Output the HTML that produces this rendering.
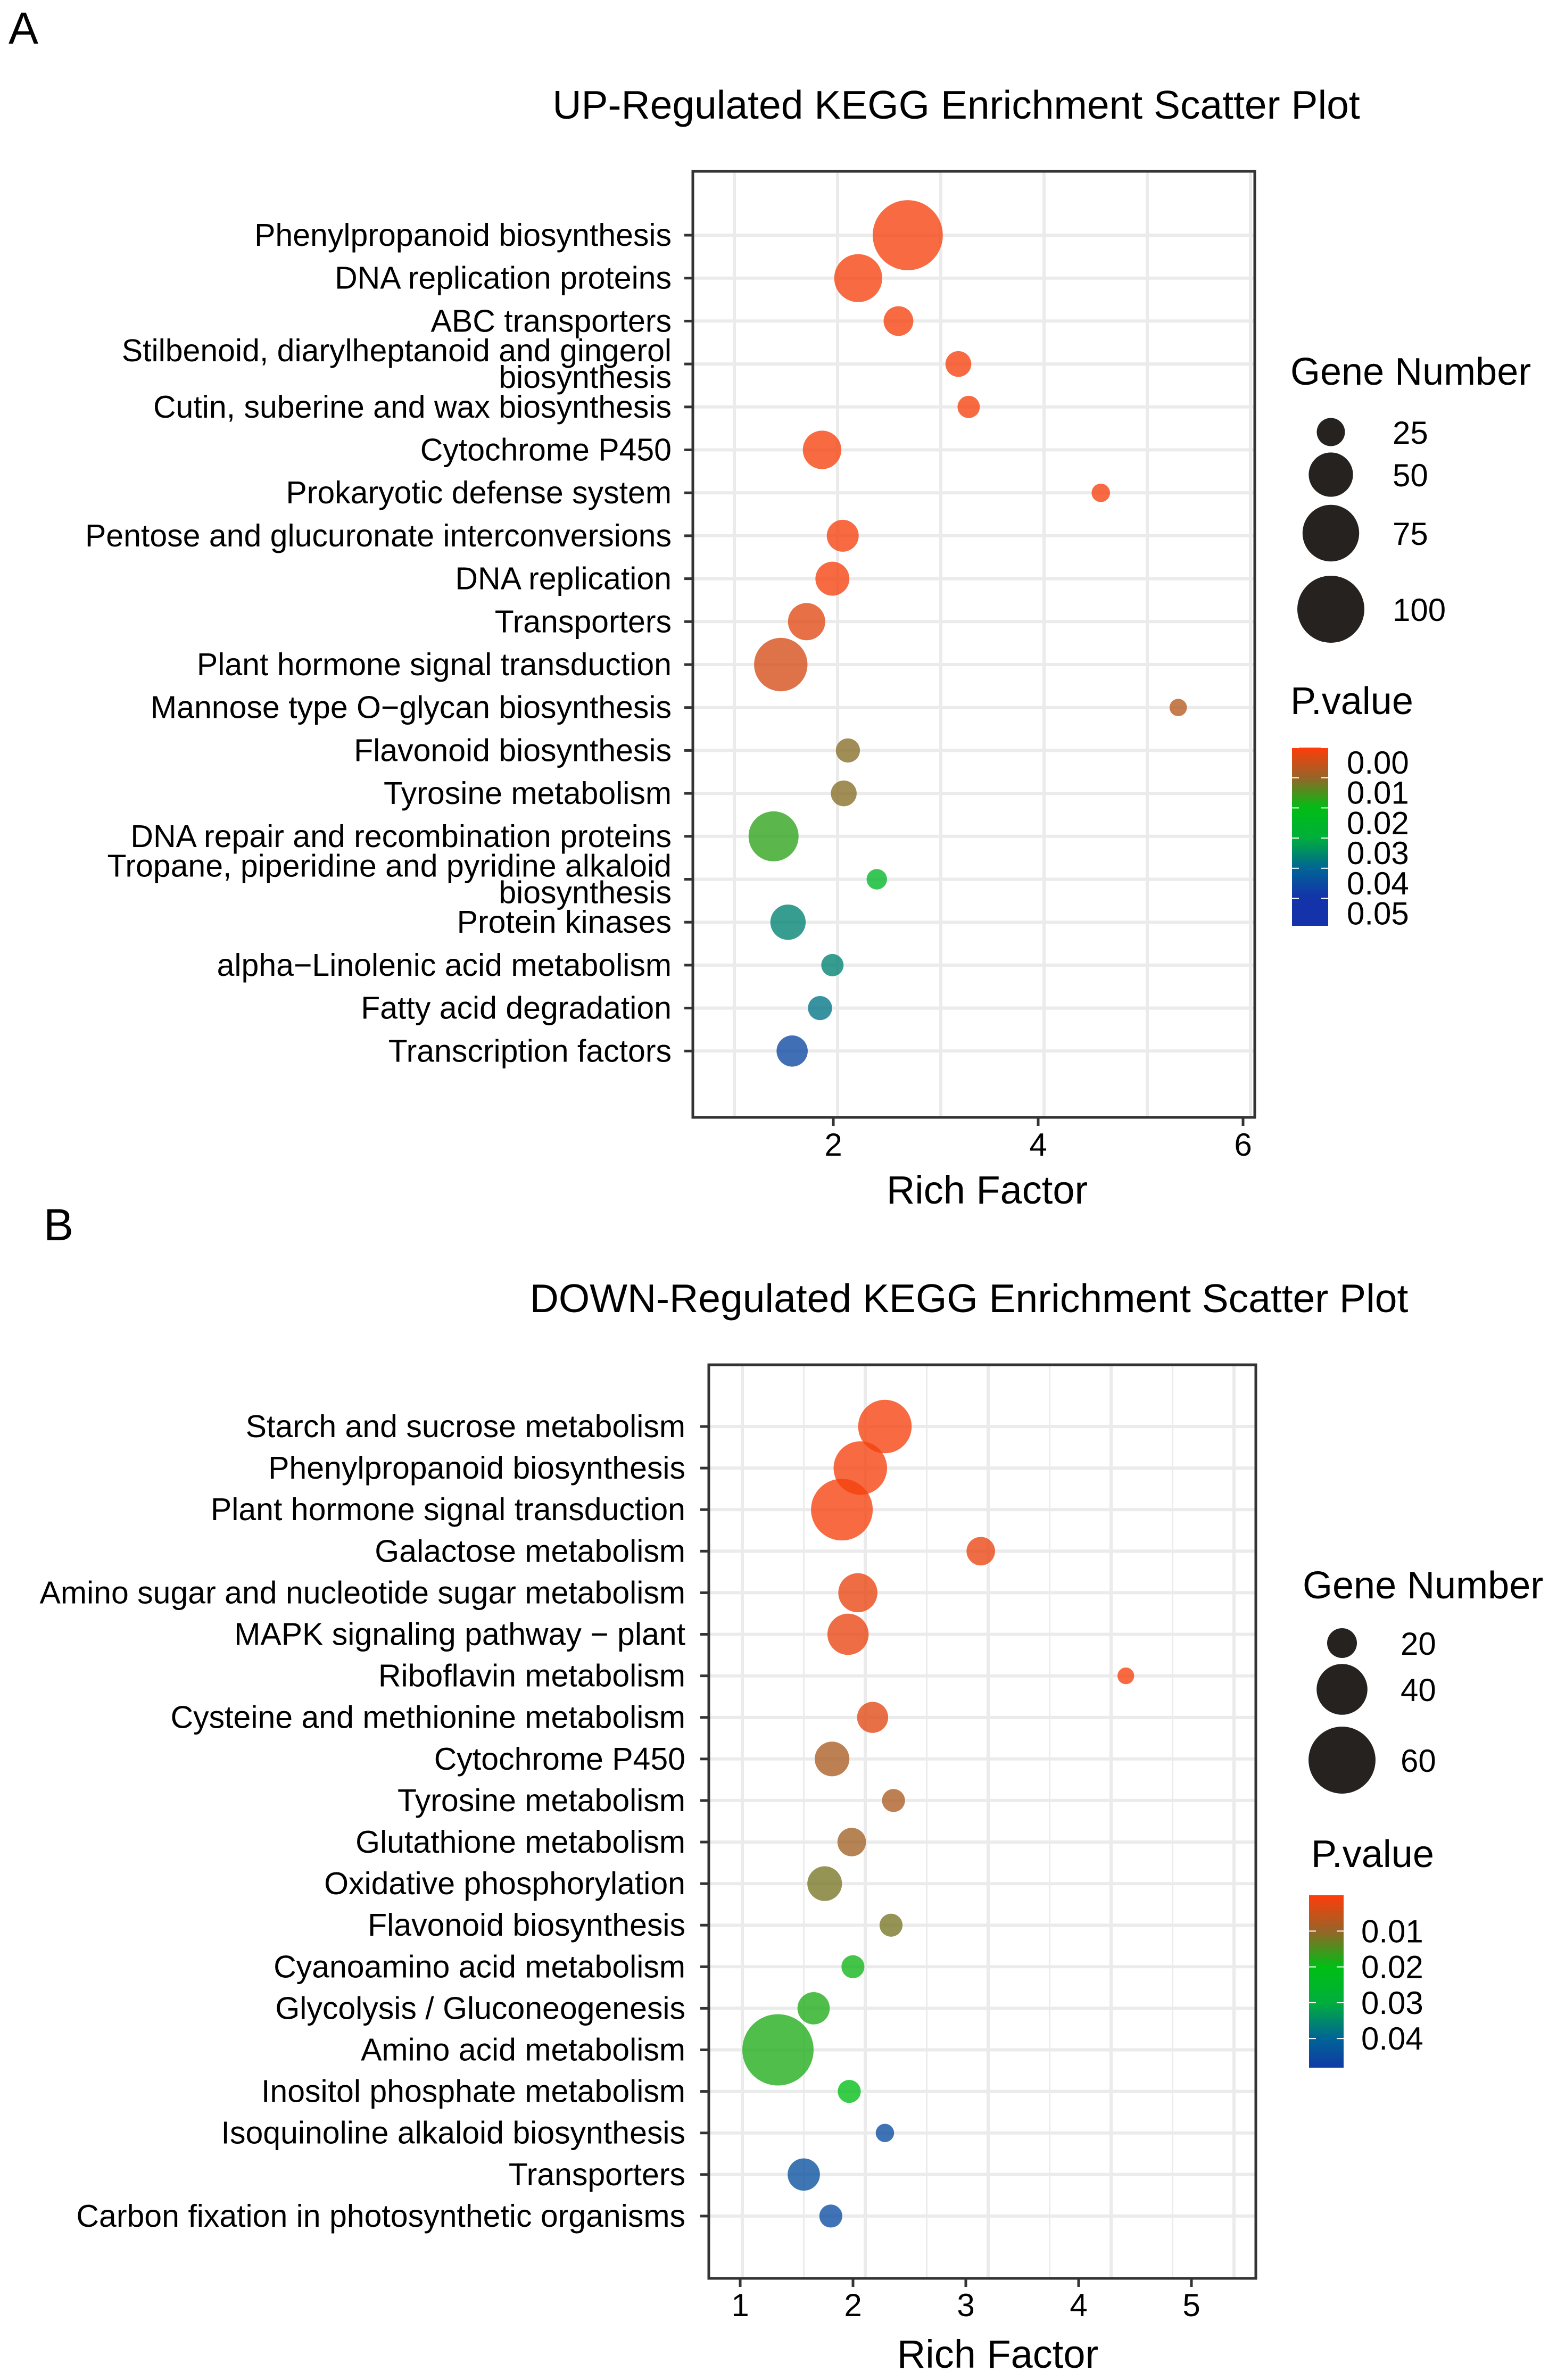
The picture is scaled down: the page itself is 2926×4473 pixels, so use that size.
<!DOCTYPE html>
<html><head><meta charset="utf-8"><title>KEGG Enrichment Scatter Plots</title>
<style>
html,body{margin:0;padding:0;background:#fff;}
svg{display:block;font-family:"Liberation Sans",Arial,sans-serif;}
</style></head>
<body>
<svg id="chart" width="2926" height="4473" viewBox="0 0 2926 4473" xmlns="http://www.w3.org/2000/svg">
<rect x="0" y="0" width="2926" height="4473" fill="#fff"/>
<text x="16" y="82" font-size="84">A</text>
<text x="82" y="2331" font-size="84">B</text>
<text x="1797" y="223" font-size="75" text-anchor="middle">UP-Regulated KEGG Enrichment Scatter Plot</text>
<text x="1821" y="2466" font-size="75" text-anchor="middle">DOWN-Regulated KEGG Enrichment Scatter Plot</text>
<text x="1855" y="2262" font-size="74" text-anchor="middle">Rich Factor</text>
<text x="1875" y="4450" font-size="74" text-anchor="middle">Rich Factor</text>
<g id="gA"></g>
<g id="gB"></g>
</svg>
<script>
// ---------- Panel A data ----------
const catsA = ["Phenylpropanoid biosynthesis","DNA replication proteins","ABC transporters","Stilbenoid, diarylheptanoid and gingerol|biosynthesis","Cutin, suberine and wax biosynthesis","Cytochrome P450","Prokaryotic defense system","Pentose and glucuronate interconversions","DNA replication","Transporters","Plant hormone signal transduction","Mannose type O\u2212glycan biosynthesis","Flavonoid biosynthesis","Tyrosine metabolism","DNA repair and recombination proteins","Tropane, piperidine and pyridine alkaloid|biosynthesis","Protein kinases","alpha\u2212Linolenic acid metabolism","Fatty acid degradation","Transcription factors"];
const richA = [2.68,2.20,2.59,3.17,3.27,1.85,4.55,2.05,1.95,1.70,1.45,5.30,2.10,2.06,1.38,2.38,1.52,1.95,1.83,1.56];
const genesA = [108,57,27,22,18,40,14,30,33,38,68,13,20,22,61,16,35,18,20,29];
const pA = [0.001,0.001,0.001,0.001,0.001,0.001,0.001,0.001,0.001,0.003,0.004,0.007,0.011,0.011,0.017,0.025,0.036,0.036,0.038,0.046];
const xTicksA = [2,4,6];
const xGridA = [1,2,3,4,5,6];
const sizeLegA = [25,50,75,100];
const pTicksA = [0.00,0.01,0.02,0.03,0.04,0.05];

// ---------- Panel B data ----------
const catsB = ["Starch and sucrose metabolism","Phenylpropanoid biosynthesis","Plant hormone signal transduction","Galactose metabolism","Amino sugar and nucleotide sugar metabolism","MAPK signaling pathway \u2212 plant","Riboflavin metabolism","Cysteine and methionine metabolism","Cytochrome P450","Tyrosine metabolism","Glutathione metabolism","Oxidative phosphorylation","Flavonoid biosynthesis","Cyanoamino acid metabolism","Glycolysis / Gluconeogenesis","Amino acid metabolism","Inositol phosphate metabolism","Isoquinoline alkaloid biosynthesis","Transporters","Carbon fixation in photosynthetic organisms"];
const richB = [2.16,1.96,1.81,2.94,1.94,1.86,4.12,2.06,1.73,2.23,1.89,1.67,2.21,1.90,1.58,1.29,1.87,2.16,1.50,1.72];
const genesB = [43,43,53,19,28,30,11,21,24,15,19,24,15,15,22,66,15,12,22,15];
const pB = [0.001,0.001,0.001,0.002,0.002,0.002,0.001,0.003,0.008,0.008,0.009,0.012,0.012,0.019,0.018,0.018,0.020,0.045,0.044,0.045];
const xTicksB = [1,2,3,4,5];
const xGridB = [1,1.5,2,2.5,3,3.5,4,4.5,5];
const sizeLegB = [20,40,60];
const pTicksB = [0.01,0.02,0.03,0.04];

const NS = "http://www.w3.org/2000/svg";
function mk(parent, tag, attrs){ const e=document.createElementNS(NS,tag); for(const k in attrs) e.setAttribute(k,attrs[k]); parent.appendChild(e); return e; }

const cStops = [[0,[255,60,10]],[0.01,[150,100,40]],[0.02,[0,190,20]],[0.03,[0,175,60]],[0.04,[0,100,150]],[0.05,[20,50,170]]];
function pColor(p){
  if(p<=cStops[0][0]) return "rgb("+cStops[0][1].join(",")+")";
  for(let i=1;i<cStops.length;i++){
    if(p<=cStops[i][0]){
      const a=cStops[i-1], b=cStops[i], t=(p-a[0])/(b[0]-a[0]);
      return "rgb("+a[1].map((v,j)=>Math.round(v+(b[1][j]-v)*t)).join(",")+")";
    }
  }
  return "rgb("+cStops[cStops.length-1][1].join(",")+")";
}

function drawPanel(cfg){
  const g = document.getElementById(cfg.gid);
  const xs = v => cfg.x0 + (v - cfg.xv0) * cfg.xu;
  const xl = v => cfg.lx0 + (v - cfg.xv0) * cfg.lxu;
  const ys = i => cfg.yTop + i * cfg.yStep;
  const rs = n => Math.max(4, cfg.ra * Math.sqrt(n) + cfg.rb);
  cfg.grid.forEach(v=>{
    const l = mk(g,"line",{x1:xs(v),x2:xs(v),y1:cfg.top,y2:cfg.bottom,stroke:"#EBEBEB","stroke-width":(Math.abs(v-Math.round(v))<1e-6&&cfg.majorInt)||cfg.allMajor?6:3});
    
    
  });
  cfg.cats.forEach((c,i)=>{
    const l = mk(g,"line",{x1:cfg.left,x2:cfg.right,y1:ys(i),y2:ys(i),stroke:"#EBEBEB","stroke-width":6});
    
    
  });
  cfg.rich.forEach((v,i)=>{
    const c = mk(g,"circle",{cx:xs(v),cy:ys(i),r:rs(cfg.genes[i]),fill:pColor(cfg.p[i]),"fill-opacity":0.78});
    
    
  });
  const fr = mk(g,"rect",{x:cfg.left,y:cfg.top,width:cfg.right-cfg.left,height:cfg.bottom-cfg.top,fill:"none",stroke:"#333","stroke-width":5});
  
  
  cfg.cats.forEach((c,i)=>{
    const t = mk(g,"line",{x1:cfg.left-16,x2:cfg.left,y1:ys(i),y2:ys(i),stroke:"#333","stroke-width":5});
    
    
    const parts = c.split("|");
    const tx = mk(g,"text",{x:cfg.labelX,y:0,"font-size":59,"text-anchor":"end"});
    
    
    if(parts.length===1){ tx.setAttribute("y", ys(i)+20); tx.textContent=c; }
    else {
      parts.forEach((pt,k)=>{ const s=mk(tx,"tspan",{x:cfg.labelX,y:ys(i)+20+(k===0?-25:25)}); s.textContent=pt; });
    }
  });
  cfg.xticks.forEach(v=>{
    const t = mk(g,"line",{x1:xl(v),x2:xl(v),y1:cfg.bottom,y2:cfg.bottom+16,stroke:"#333","stroke-width":5});
    
    
    const tx = mk(g,"text",{x:xl(v),y:cfg.xlabY,"font-size":60,"text-anchor":"middle"});
    
    
    tx.textContent = String(v);
  });
  const lg = cfg.leg;
  const t1 = mk(g,"text",{x:lg.x,y:lg.titleY,"font-size":72});
  
  
  t1.textContent="Gene Number";
  cfg.sizeLeg.forEach((n,k)=>{
    const c = mk(g,"circle",{cx:lg.cx,cy:lg.cys[k],r:rs(n),fill:"#26221F"});
    
    
    const tx = mk(g,"text",{x:lg.lx,y:lg.cys[k]+22,"font-size":60});
    
    
    tx.textContent=String(n);
  });
  const t2 = mk(g,"text",{x:lg.px,y:lg.pTitleY,"font-size":72});
  
  
  t2.textContent="P.value";
  const gid = cfg.gid+"grad";
  const defs = mk(g,"defs",{});
  const gr = mk(defs,"linearGradient",{id:gid,x1:0,y1:0,x2:0,y2:1});
  const pMax = (lg.barB-lg.barT)/lg.pPx;
  for(let k=0;k<=24;k++){
    const pv = pMax*k/24;
    mk(gr,"stop",{offset:(k/24),"stop-color":pColor(pv)});
  }
  const bar = mk(g,"rect",{x:lg.barX,y:lg.barT,width:lg.barW,height:lg.barB-lg.barT,fill:"url(#"+gid+")"});
  
  
  cfg.pTicks.forEach(pv=>{
    const y = lg.barT + pv*lg.pPx;
    [[lg.barX,lg.barX+13],[lg.barX+lg.barW-13,lg.barX+lg.barW]].forEach(s=>{
      const l = mk(g,"line",{x1:s[0],x2:s[1],y1:y,y2:y,stroke:"#fff","stroke-width":2});
      
      
    });
    const tx = mk(g,"text",{x:lg.plx,y:y+lg.plOff+21,"font-size":60});
    
    
    tx.textContent = pv.toFixed(2);
  });
}

drawPanel({gid:"gA",cats:catsA,rich:richA,genes:genesA,p:pA,
  x0:1186,xv0:0,xu:194,lx0:1181,lxu:192.5,
  yTop:442,yStep:80.7,left:1302,right:2358,top:322,bottom:2100,
  grid:xGridA,allMajor:true,xticks:xTicksA,xlabY:2172,labelX:1262,
  ra:7.3,rb:-10,sizeLeg:sizeLegA,pTicks:pTicksA,
  leg:{x:2425,titleY:723,cx:2501,cys:[812,892,1002,1145],lx:2617,px:2425,pTitleY:1342,
       barX:2428,barW:68,barT:1405,barB:1740,pPx:5670,plx:2531,plOff:28}});

drawPanel({gid:"gB",cats:catsB,rich:richB,genes:genesB,p:pB,
  x0:1395,xv0:1,xu:231,lx0:1391,lxu:212,
  yTop:2681,yStep:78.1,left:1332,right:2360,top:2565,bottom:4282,
  grid:xGridB,majorInt:true,xticks:xTicksB,xlabY:4353,labelX:1288,
  ra:10.67,rb:-19.7,sizeLeg:sizeLegB,pTicks:pTicksB,
  leg:{x:2448,titleY:3004,cx:2522,cys:[3088,3175,3308],lx:2632,px:2464,pTitleY:3509,
       barX:2460,barW:65,barT:3562,barB:3886,pPx:6730,plx:2558,plOff:0}});
</script>
</body></html>
